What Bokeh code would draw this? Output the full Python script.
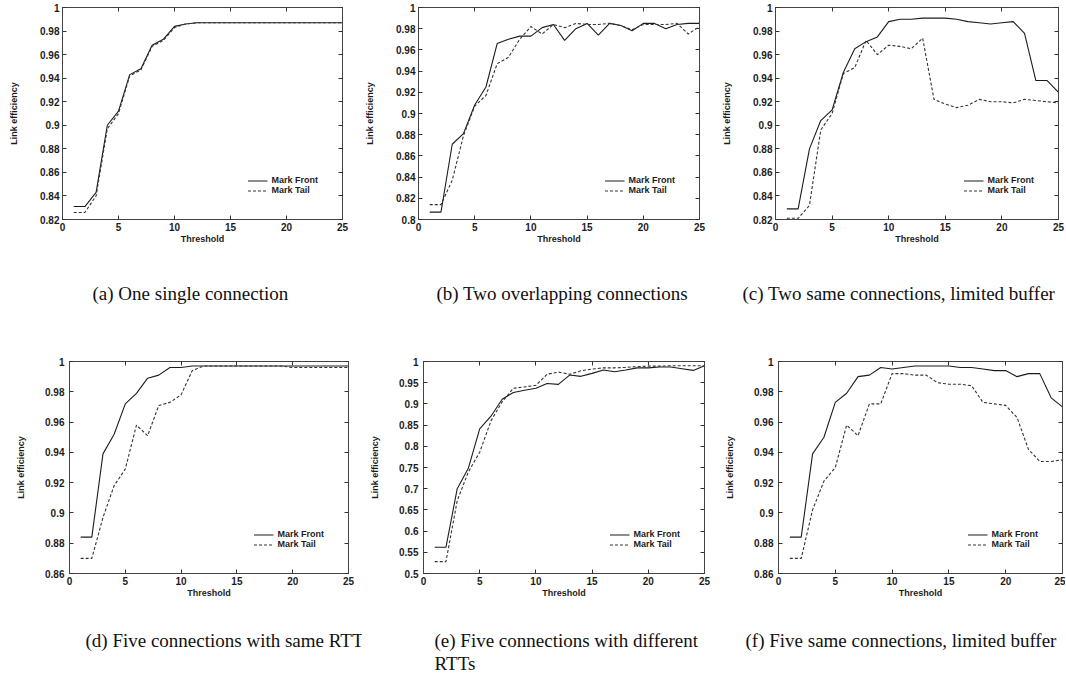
from bokeh.plotting import figure
from bokeh.layouts import column, row
from bokeh.models import (LinearAxis, FixedTicker, CustomJSTickFormatter, Title,
                          Legend, LegendItem, Range1d)
from bokeh.embed import file_html
from bokeh.resources import INLINE

# ---------------- data ----------------
threshold = list(range(1, 26))

a_front = [0.831, 0.831, 0.843, 0.900, 0.912, 0.943, 0.948, 0.968, 0.973, 0.984, 0.986, 0.987, 0.987,
           0.987, 0.987, 0.987, 0.987, 0.987, 0.987, 0.987, 0.987, 0.987, 0.987, 0.987, 0.987]
a_tail = [0.826, 0.826, 0.840, 0.897, 0.910, 0.942, 0.947, 0.967, 0.972, 0.983, 0.986, 0.987, 0.987,
          0.987, 0.987, 0.987, 0.987, 0.987, 0.987, 0.987, 0.987, 0.987, 0.987, 0.987, 0.987]

b_front = [0.807, 0.807, 0.871, 0.881, 0.908, 0.925, 0.966, 0.970, 0.973, 0.973, 0.981, 0.984, 0.969,
           0.980, 0.985, 0.974, 0.985, 0.983, 0.978, 0.985, 0.985, 0.980, 0.984, 0.985, 0.985]
b_tail = [0.814, 0.814, 0.837, 0.879, 0.907, 0.917, 0.947, 0.953, 0.970, 0.982, 0.975, 0.984, 0.981,
          0.985, 0.984, 0.984, 0.985, 0.983, 0.979, 0.984, 0.984, 0.984, 0.985, 0.975, 0.982]

c_front = [0.829, 0.829, 0.880, 0.904, 0.913, 0.945, 0.965, 0.971, 0.975, 0.988, 0.990, 0.990, 0.991,
           0.991, 0.991, 0.990, 0.988, 0.987, 0.986, 0.987, 0.988, 0.978, 0.938, 0.938, 0.928]
c_tail = [0.821, 0.821, 0.832, 0.896, 0.910, 0.944, 0.949, 0.972, 0.960, 0.968, 0.967, 0.965, 0.974,
          0.922, 0.918, 0.915, 0.917, 0.922, 0.920, 0.920, 0.919, 0.922, 0.921, 0.920, 0.919]

d_front = [0.884, 0.884, 0.939, 0.952, 0.972, 0.979, 0.989, 0.991, 0.996, 0.996, 0.997, 0.997, 0.997,
           0.997, 0.997, 0.997, 0.997, 0.997, 0.997, 0.997, 0.997, 0.997, 0.997, 0.997, 0.997]
d_tail = [0.870, 0.870, 0.897, 0.918, 0.929, 0.958, 0.951, 0.971, 0.973, 0.978, 0.994, 0.997, 0.997,
          0.997, 0.997, 0.997, 0.997, 0.997, 0.997, 0.996, 0.996, 0.996, 0.996, 0.996, 0.996]

e_front = [0.562, 0.562, 0.700, 0.749, 0.841, 0.871, 0.911, 0.927, 0.932, 0.937, 0.948, 0.946, 0.968,
           0.965, 0.972, 0.980, 0.976, 0.980, 0.985, 0.985, 0.987, 0.987, 0.983, 0.979, 0.990]
e_tail = [0.528, 0.528, 0.672, 0.740, 0.786, 0.860, 0.905, 0.937, 0.940, 0.944, 0.970, 0.975, 0.970,
          0.978, 0.982, 0.985, 0.985, 0.986, 0.988, 0.989, 0.989, 0.990, 0.990, 0.990, 0.990]

f_front = [0.884, 0.884, 0.939, 0.950, 0.973, 0.979, 0.990, 0.991, 0.996, 0.995, 0.996, 0.997, 0.997,
           0.997, 0.997, 0.996, 0.996, 0.995, 0.994, 0.994, 0.990, 0.992, 0.992, 0.976, 0.970]
f_tail = [0.870, 0.870, 0.902, 0.921, 0.930, 0.958, 0.951, 0.972, 0.972, 0.992, 0.992, 0.991, 0.991,
          0.986, 0.985, 0.985, 0.984, 0.973, 0.972, 0.971, 0.963, 0.942, 0.934, 0.934, 0.935]

x_ticks = [0, 5, 10, 15, 20, 25]
y_ticks_a = [0.82, 0.84, 0.86, 0.88, 0.9, 0.92, 0.94, 0.96, 0.98, 1.0]
y_ticks_b = [0.8, 0.82, 0.84, 0.86, 0.88, 0.9, 0.92, 0.94, 0.96, 0.98, 1.0]
y_ticks_c = [0.82, 0.84, 0.86, 0.88, 0.9, 0.92, 0.94, 0.96, 0.98, 1.0]
y_ticks_d = [0.86, 0.88, 0.9, 0.92, 0.94, 0.96, 0.98, 1.0]
y_ticks_e = [0.5, 0.55, 0.6, 0.65, 0.7, 0.75, 0.8, 0.85, 0.9, 0.95, 1.0]
y_ticks_f = [0.86, 0.88, 0.9, 0.92, 0.94, 0.96, 0.98, 1.0]

captions = {
    "a": ["(a) One single connection"],
    "b": ["(b) Two overlapping connections"],
    "c": ["(c) Two same connections, limited buffer"],
    "d": ["(d) Five connections with same RTT"],
    "e": ["(e) Five connections with different", "RTTs"],
    "f": ["(f) Five same connections, limited buffer"],
}

# ---------------- style ----------------
INK = "#1c1c1c"
SANS = "Liberation Sans"
SERIF = "Liberation Serif"

y_fmt = CustomJSTickFormatter(code="return String(parseFloat(tick.toFixed(4)));")
blank_fmt = CustomJSTickFormatter(code="return '';")


def style_axis(ax, ticks, labels=True):
    ax.ticker = FixedTicker(ticks=ticks)
    ax.major_tick_in = 4
    ax.major_tick_out = 0
    ax.minor_tick_line_color = None
    ax.axis_line_color = "#444444"
    ax.major_tick_line_color = "#333333"
    if labels:
        ax.major_label_text_font = SANS
        ax.major_label_text_font_style = "bold"
        ax.major_label_text_font_size = "10px"
        ax.major_label_text_color = INK
    else:
        ax.formatter = blank_fmt
        ax.major_label_text_font_size = "0px"
        ax.major_label_standoff = 0


def panel(front, tail, ylo, yhi, yticks, cap, fw, fh, left, right, top, bottom,
          ylab_standoff, ylbl_standoff, cap_offset, cap_gap):
    p = figure(frame_width=fw, frame_height=fh,
               min_border_left=left, min_border_right=right,
               min_border_top=top, min_border_bottom=bottom,
               x_range=Range1d(0, 25), y_range=Range1d(ylo, yhi),
               output_backend="svg", toolbar_location=None,
               background_fill_color="white", border_fill_color="white")
    p.xgrid.visible = False
    p.ygrid.visible = False
    p.outline_line_color = "#555555"
    p.outline_line_width = 1

    rf = p.line(threshold, front, line_color=INK, line_width=1.1)
    rt = p.line(threshold, tail, line_color="#333333", line_width=1.1, line_dash="3 2")

    xa = p.xaxis[0]
    style_axis(xa, x_ticks)
    xa.axis_label = "Threshold"
    xa.axis_label_text_font = SANS
    xa.axis_label_text_font_style = "bold"
    xa.axis_label_text_font_size = "9px"
    xa.axis_label_text_color = INK
    xa.axis_label_standoff = 0
    xa.major_label_standoff = 3

    ya = p.yaxis[0]
    style_axis(ya, yticks)
    ya.formatter = y_fmt
    ya.axis_label = "Link efficiency"
    ya.axis_label_text_font = SANS
    ya.axis_label_text_font_style = "bold"
    ya.axis_label_text_font_size = "9px"
    ya.axis_label_text_color = INK
    ya.major_label_standoff = ylab_standoff
    ya.axis_label_standoff = ylbl_standoff

    top_ax = LinearAxis()
    style_axis(top_ax, x_ticks, labels=False)
    p.add_layout(top_ax, "above")
    right_ax = LinearAxis()
    style_axis(right_ax, yticks, labels=False)
    p.add_layout(right_ax, "right")

    # invisible spacer between the axis and the caption (one hidden tick)
    spacer = LinearAxis(ticker=FixedTicker(ticks=[12.5]), formatter=blank_fmt,
                        axis_line_color=None, major_tick_line_color=None,
                        minor_tick_line_color=None, major_tick_in=0,
                        major_tick_out=cap_gap, minor_tick_out=0,
                        major_label_text_font_size="0px", major_label_standoff=0)
    p.add_layout(spacer, "below")

    legend = Legend(items=[LegendItem(label="Mark Front", renderers=[rf]),
                           LegendItem(label="Mark Tail", renderers=[rt])],
                    location="bottom_right", margin=24, padding=0, spacing=0,
                    label_text_font=SANS, label_text_font_style="bold",
                    label_text_font_size="9px", label_text_color=INK,
                    label_height=9, glyph_height=9, glyph_width=20, label_standoff=4,
                    background_fill_alpha=0, border_line_alpha=0)
    p.add_layout(legend)

    for line in cap:
        t = Title(text=line, align="left", offset=cap_offset, standoff=0,
                  text_font=SERIF, text_font_size="19px", text_font_style="normal",
                  text_color="#111111")
        p.add_layout(t, "below")
    return p


pa = panel(a_front, a_tail, 0.82, 1.0, y_ticks_a, captions["a"], 280, 212, 62, 20, 7, 137,
           3, 18, 30, 34)
pb = panel(b_front, b_tail, 0.8, 1.0, y_ticks_b, captions["b"], 281, 212, 54, 20, 7, 137,
           3, 18, 18, 34)
pc = panel(c_front, c_tail, 0.82, 1.0, y_ticks_c, captions["c"], 283, 212, 54, 10, 7, 137,
           3, 18, -33, 34)
pd = panel(d_front, d_tail, 0.86, 1.0, y_ticks_d, captions["d"], 279, 212, 69, 14, 5, 107,
           5, 16, 16, 27)
pe = panel(e_front, e_tail, 0.5, 1.0, y_ticks_e, captions["e"], 281, 212, 61, 13, 5, 107,
           5, 16, 11, 27)
pf = panel(f_front, f_tail, 0.86, 1.0, y_ticks_f, captions["f"], 284, 212, 61, 3, 5, 107,
           5, 16, -33, 27)

layout = column(row(pa, pb, pc, spacing=0), row(pd, pe, pf, spacing=0), spacing=0)

open("out.html", "w").write(file_html(layout, INLINE))
